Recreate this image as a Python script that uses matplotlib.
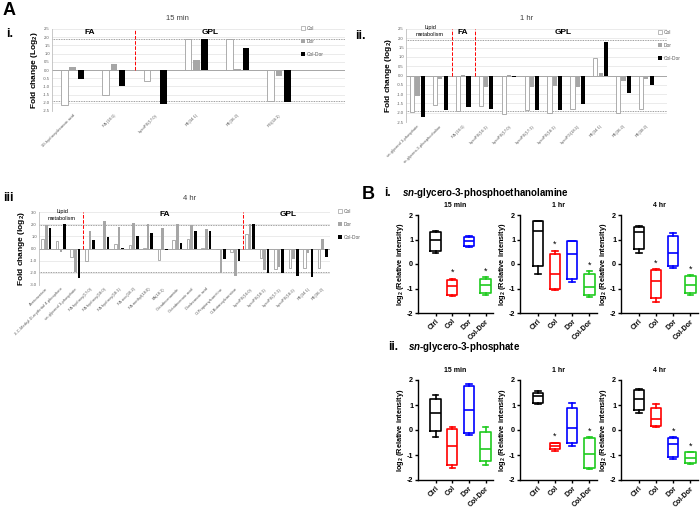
import matplotlib
matplotlib.use("Agg")
import matplotlib.pyplot as plt
from matplotlib.patches import Patch
import numpy as np

plt.rcParams['font.family'] = ['Liberation Sans', 'DejaVu Sans']
plt.rcParams['mathtext.fontset'] = 'custom'
plt.rcParams['mathtext.rm'] = 'Liberation Sans'
plt.rcParams['mathtext.it'] = 'Liberation Sans:italic:bold'
plt.rcParams['mathtext.bf'] = 'Liberation Sans:bold'

W, H = 700, 508

# ---- panel A data (fold change, log2) ----
cats_15min = ['10-hydroxydecanoic acid', 'FA (18:1)', 'LysoPE(17:0)', 'PE(34:1)', 'PE(36:2)', 'PG(34:1)']
col_15min = [-2.15, -1.55, -0.65, 1.87, 1.9, -1.9]
dor_15min = [0.2, 0.35, 0.0, 0.62, 0.08, -0.35]
coldor_15min = [-0.55, -0.97, -2.05, 1.87, 1.35, -1.93]

cats_1hr = ['sn-glycerol 3-phosphate', 'sn-glycero-3-phosphocholine', 'FA (18:1)', 'LysoPE(16:1)',
            'LysoPE(17:0)', 'LysoPE(17:1)', 'LysoPE(18:1)', 'LysoPG(18:1)', 'PE(34:1)', 'PE(36:2)', 'PE(38:2)']
col_1hr = [-1.94, -1.6, -1.93, -1.63, -2.08, -1.86, -2.03, -1.78, 0.96, -2.0, -1.8]
dor_1hr = [-1.12, -0.2, 0.02, -0.6, 0.02, -0.62, -0.58, -0.63, 0.15, -0.3, -0.2]
coldor_1hr = [-2.25, -1.83, -1.72, -1.82, -0.08, -1.88, -1.88, -1.55, 1.8, -0.94, -0.5]

cats_4hr = ['Acetoacetate', '2-C-Methyl-D-erythritol 4-phosphate', 'sn-glycerol 3-phosphate',
            'FA hydroxy(17:0)', 'FA hydroxy(18:0)', 'FA hydroxy(18:1)', 'FA oxo(18:2)', 'FA methyl(18:0)',
            'FA(18:1)', 'Octadecanamide', 'Octadecenoic acid', 'Dodecanoic acid', 'O-Propionylcarnitine',
            'O-Butanoylcarnitine', 'LysoPE(16:0)', 'LysoPE(18:1)', 'LysoPE(17:1)', 'LysoPE(18:2)',
            'PE(34:1)', 'PE(36:2)']
col_4hr = [0.8, 0.6, -0.7, -1.0, 0.0, 0.35, 0.3, 0.02, -0.95, 0.7, 0.75, 0.05, 0.0, -0.3,
           1.2, -0.75, -1.7, -1.6, -1.6, -1.6]
dor_4hr = [1.9, -0.3, -1.9, 1.4, 2.25, 1.75, 2.1, 2.05, 1.65, 2.0, 1.9, 1.6, -2.0, -2.25,
           2.0, -1.8, -1.5, -0.9, -0.4, 0.8]
coldor_4hr = [1.7, 2.0, -2.4, 0.7, 0.95, 0.05, 1.0, 1.3, -0.1, 0.45, 1.4, 1.4, -0.9, -1.0,
              2.0, -2.0, -2.0, -2.3, -2.35, -0.7]

# ---- panel B data: [whisker low, q1, median, q3, whisker high] per group ----
groups = ['Ctrl', 'Col', 'Dor', 'Col-Dor']
gpe_15min = [[0.45, 0.55, 1.0, 1.3, 1.35], [-1.3, -1.25, -0.9, -0.65, -0.6],
             [0.7, 0.72, 0.93, 1.1, 1.15], [-1.25, -1.2, -0.85, -0.6, -0.55]]
gpe_1hr = [[-0.4, -0.1, 1.35, 1.75, 1.75], [-1.05, -1.0, -0.4, 0.4, 0.55],
           [-0.75, -0.6, 0.4, 0.95, 0.95], [-1.35, -1.25, -0.95, -0.4, -0.3]]
gpe_4hr = [[0.45, 0.6, 1.3, 1.5, 1.55], [-1.55, -1.4, -0.7, -0.25, -0.2],
           [-0.15, -0.1, 0.45, 1.15, 1.25], [-1.25, -1.2, -0.85, -0.5, -0.45]]
g3p_15min = [[-0.27, -0.05, 0.7, 1.23, 1.4], [-1.5, -1.4, -0.65, 0.05, 0.13],
             [-0.18, -0.1, 0.8, 1.75, 1.84], [-1.38, -1.25, -0.77, -0.07, 0.13]]
g3p_1hr = [[1.03, 1.07, 1.38, 1.5, 1.55], [-0.82, -0.77, -0.62, -0.5, -0.5],
           [-0.64, -0.5, 0.1, 0.9, 1.1], [-1.55, -1.53, -0.95, -0.33, -0.28]]
g3p_4hr = [[0.7, 0.82, 1.25, 1.6, 1.65], [0.13, 0.18, 0.43, 0.9, 1.03],
           [-1.15, -1.07, -0.57, -0.3, -0.27], [-1.35, -1.33, -1.13, -0.87, -0.87]]
gpe_stars = [[1, 3], [1, 3], [1, 3]]
g3p_stars = [[], [1, 3], [2, 3]]

fig = plt.figure(figsize=(7, 5.08), dpi=100)


def px_axes(l, t, r, b):
    return fig.add_axes([l / W, 1 - b / H, (r - l) / W, (b - t) / H])


def ftext(x, y, s, **kw):
    fig.text(x / W, 1 - y / H, s, **kw)


GRAY_TXT = '#595959'


def bar_panel(ax, cats, col, dor, cd, ylim, step, off, width, xr, dividers, ylabel):
    x = np.arange(len(cats))
    ax.bar(x - off, col, width, color='white', edgecolor='#A0A0A0', lw=0.6, zorder=2)
    ax.bar(x, dor, width, color='#A6A6A6', lw=0, zorder=2)
    ax.bar(x + off, cd, width, color='black', lw=0, zorder=2)
    ax.set_xlim(-0.5, xr)
    ax.set_ylim(*ylim)
    ticks = np.arange(ylim[0], ylim[1] + step / 2, step)
    ax.set_yticks(ticks)
    ax.set_yticklabels([f'{t:.1f}' for t in ticks], fontsize=3, color=GRAY_TXT)
    ax.grid(axis='y', color='#E3E3E3', lw=0.5)
    ax.set_axisbelow(True)
    ax.axhline(0, color='#A6A6A6', lw=0.7, zorder=1)
    for y in (1.9, -1.9):
        ax.axhline(y, color='#7F7F7F', lw=0.6, ls=(0, (1, 1)), zorder=1)
    for d in dividers:
        ax.plot([d, d], [0, ylim[1]], color='red', ls='--', lw=0.7, zorder=3)
    ax.set_xticks(x)
    ax.set_xticklabels(cats, rotation=45, ha='right', rotation_mode='anchor',
                       fontsize=3, color=GRAY_TXT)
    ax.tick_params(length=0, pad=1.5)
    for s in ['top', 'right', 'bottom']:
        ax.spines[s].set_visible(False)
    ax.spines['left'].set_color('#BFBFBF')
    ax.spines['left'].set_linewidth(0.6)
    ax.set_ylabel(ylabel, fontsize=6, fontweight='bold', labelpad=2)


def legend_at(x, y):
    handles = [Patch(facecolor='white', edgecolor='#A0A0A0', lw=0.5, label='Col'),
               Patch(facecolor='#A6A6A6', label='Dor'),
               Patch(facecolor='black', label='Col-Dor')]
    leg = fig.legend(handles=handles, loc='upper left', bbox_to_anchor=(x / W, 1 - y / H),
                     frameon=False, fontsize=3.5, handlelength=0.8, handleheight=0.8,
                     labelspacing=1.6, handletextpad=0.3, borderpad=0, borderaxespad=0)
    for t in leg.get_texts():
        t.set_color(GRAY_TXT)


# ---- A i ----
ax1 = px_axes(52, 29, 345, 111)
bar_panel(ax1, cats_15min, col_15min, dor_15min, coldor_15min, (-2.5, 2.5), 0.5,
          0.2, 0.16, 6.6, [1.5], 'Fold change (Log$_\\mathbf{2}$)')
legend_at(301, 26)

# ---- A ii ----
ax2 = px_axes(406, 29, 667, 122)
bar_panel(ax2, cats_1hr, col_1hr, dor_1hr, coldor_1hr, (-2.5, 2.5), 0.5,
          0.23, 0.18, 10.9, [1.5, 2.5], 'Fold change (log$_\\mathbf{2}$)')
legend_at(658, 30)

# ---- A iii ----
ax3 = px_axes(39, 212, 330, 285)
bar_panel(ax3, cats_4hr, col_4hr, dor_4hr, coldor_4hr, (-3.0, 3.0), 1.0,
          0.25, 0.18, 19.5, [2.5, 13.5], 'Fold change (log$_\\mathbf{2}$)')
legend_at(338, 209)

# ---- A labels ----
ftext(3, 2, 'A', fontsize=13, fontweight='bold', va='top')
ftext(6, 28, 'i.', fontsize=9, fontweight='bold', va='top')
ftext(355, 30, 'ii.', fontsize=9, fontweight='bold', va='top')
ftext(3, 192, 'iii', fontsize=9, fontweight='bold', va='top')
ftext(177, 18, '15 min', fontsize=5.5, ha='center', va='center', color='#404040')
ftext(527, 18, '1 hr', fontsize=5.5, ha='center', va='center', color='#404040')
ftext(190, 198, '4 hr', fontsize=5.5, ha='center', va='center', color='#404040')
ftext(90, 33, 'FA', fontsize=6, fontweight='bold', ha='center', va='center')
ftext(210, 33, 'GPL', fontsize=6, fontweight='bold', ha='center', va='center')
ftext(430, 31, 'Lipid\nmetabolism', fontsize=4, ha='center', va='center', linespacing=1.3)
ftext(463, 33, 'FA', fontsize=6, fontweight='bold', ha='center', va='center')
ftext(563, 32, 'GPL', fontsize=6, fontweight='bold', ha='center', va='center')
ftext(62, 215, 'Lipid\nmetabolism', fontsize=4, ha='center', va='center', linespacing=1.3)
ftext(165, 215, 'FA', fontsize=6, fontweight='bold', ha='center', va='center')
ftext(288, 215, 'GPL', fontsize=6, fontweight='bold', ha='center', va='center')

# ---- B ----
box_colors = ['black', 'red', 'blue', '#1FCB1F']


def box_panel(ax, data, stars, title):
    stats = [dict(whislo=d[0], q1=d[1], med=d[2], q3=d[3], whishi=d[4]) for d in data]
    bp = ax.bxp(stats, positions=range(4), widths=0.62, showfliers=False, capwidths=0.32)
    for i, c in enumerate(box_colors):
        bp['boxes'][i].set(color=c, lw=1.2)
        bp['medians'][i].set(color=c, lw=1.2)
        for k in (2 * i, 2 * i + 1):
            bp['whiskers'][k].set(color=c, lw=1.2)
            bp['caps'][k].set(color=c, lw=1.2)
    for s in stars:
        ax.text(s, data[s][4] + 0.06, '*', ha='center', va='bottom', fontsize=6.5)
    ax.set_xlim(-1.05, 3.45)
    ax.set_ylim(-2, 2)
    ax.set_yticks([-2, -1, 0, 1, 2])
    ax.set_yticklabels(['-2', '-1', '0', '1', '2'], fontsize=5.2, fontweight='bold')
    ax.set_xticks(range(4))
    ax.set_xticklabels(groups, rotation=45, ha='right', rotation_mode='anchor',
                       fontsize=5, fontweight='bold')
    ax.tick_params(length=2.5, width=1.0, pad=1)
    for s in ['top', 'right']:
        ax.spines[s].set_visible(False)
    for s in ['left', 'bottom']:
        ax.spines[s].set_linewidth(1.0)
    ax.set_ylabel('log$_\\mathbf{2}$ (Relative intensity)', fontsize=5.3, fontweight='bold', labelpad=0.5)
    ax.set_title(title, fontsize=5, fontweight='bold', pad=6)


lefts = [(418, 493), (520, 597), (621, 698)]
titles = ['15 min', '1 hr', '4 hr']
for (l, r), d, st, t in zip(lefts, [gpe_15min, gpe_1hr, gpe_4hr], gpe_stars, titles):
    box_panel(px_axes(l, 215, r, 313), d, st, t)
for (l, r), d, st, t in zip(lefts, [g3p_15min, g3p_1hr, g3p_4hr], g3p_stars, titles):
    box_panel(px_axes(l, 380, r, 480), d, st, t)

ftext(362, 186, 'B', fontsize=13, fontweight='bold', va='top')
ftext(384, 193, 'i.', fontsize=8.5, fontweight='bold', va='center')
ftext(402, 193, '$\\mathit{sn}$-glycero-3-phosphoethanolamine', fontsize=7, fontweight='bold', va='center')
ftext(388, 347, 'ii.', fontsize=8.5, fontweight='bold', va='center')
ftext(408, 347, '$\\mathit{sn}$-glycero-3-phosphate', fontsize=7, fontweight='bold', va='center')

fig.savefig('out.png', dpi=100)
